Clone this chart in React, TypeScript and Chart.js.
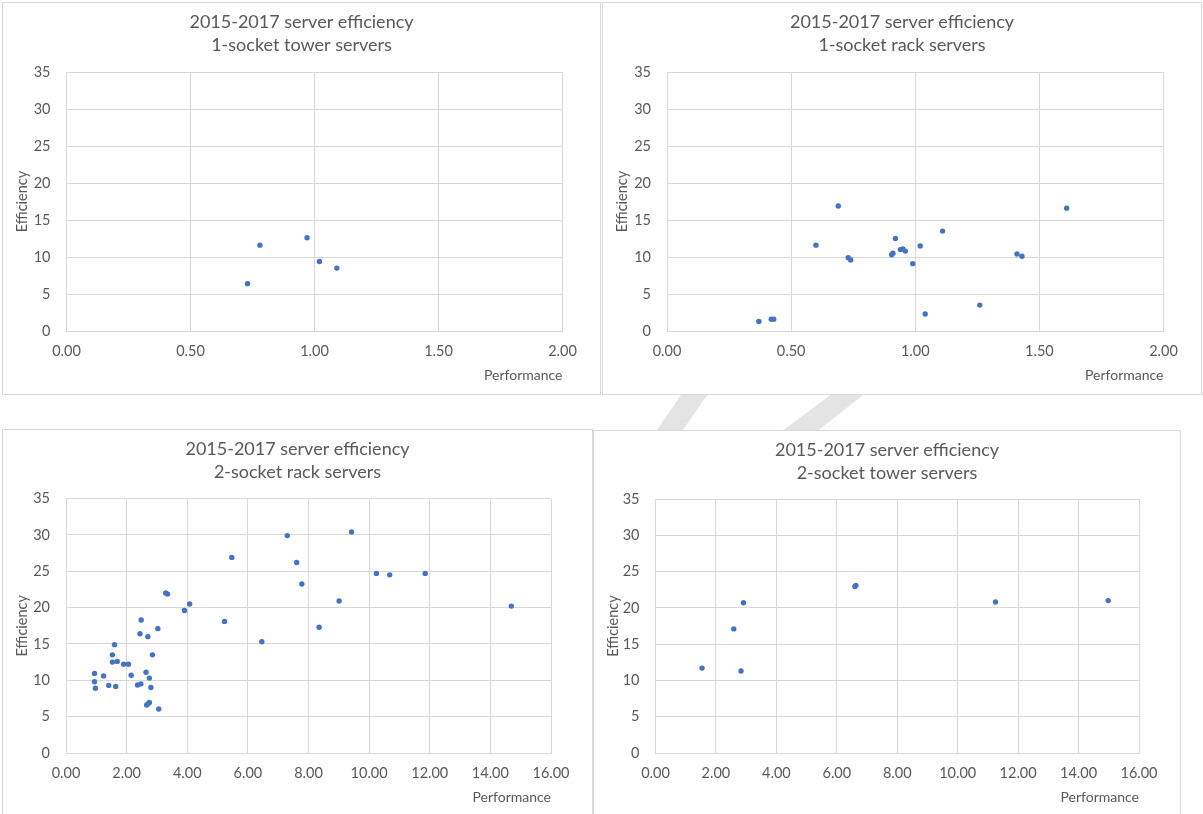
import React, { useEffect, useRef } from "react";
import { Chart, registerables } from "chart.js";

Chart.register(...registerables);

// ---------- data ----------
const chartTitle = "2015-2017 server efficiency";
const subtitles = [
  "1-socket tower servers",
  "1-socket rack servers",
  "2-socket rack servers",
  "2-socket tower servers",
];
const xAxisTitle = "Performance";
const yAxisTitle = "Efficiency";

const xTicksSmall = ["0.00", "0.50", "1.00", "1.50", "2.00"];
const xTicksLarge = ["0.00", "2.00", "4.00", "6.00", "8.00", "10.00", "12.00", "14.00", "16.00"];
const yTicks = ["0", "5", "10", "15", "20", "25", "30", "35"];

const tower1X = [0.73, 0.78, 0.97, 1.02, 1.09];
const tower1Y = [6.4, 11.6, 12.6, 9.4, 8.5];

const rack1X = [0.37, 0.42, 0.43, 0.6, 0.69, 0.73, 0.74, 0.905, 0.91, 0.92, 0.94, 0.95, 0.96, 0.99, 1.02, 1.04, 1.11, 1.26, 1.41, 1.43, 1.61];
const rack1Y = [1.3, 1.6, 1.6, 11.6, 16.9, 9.9, 9.6, 10.3, 10.5, 12.5, 11.0, 11.1, 10.8, 9.1, 11.5, 2.3, 13.5, 3.5, 10.4, 10.1, 16.6];

const rack2X = [
  0.94, 0.94, 0.97, 1.24, 1.41, 1.53, 1.53, 1.6, 1.64, 1.69, 1.9, 2.06, 2.15, 2.36, 2.47,
  2.44, 2.48, 2.64, 2.7, 2.75, 2.8, 2.85, 2.66, 2.72, 2.75, 3.03, 3.06, 3.29, 3.35, 3.91,
  4.08, 5.23, 5.47, 6.46, 7.3, 7.61, 7.78, 8.35, 9.01, 9.42, 10.24, 10.68, 11.85, 14.69,
];
const rack2Y = [
  10.95, 9.8, 8.9, 10.6, 9.3, 13.5, 12.5, 14.9, 9.15, 12.6, 12.2, 12.2, 10.7, 9.35, 9.5,
  16.4, 18.3, 11.1, 16.0, 10.3, 9.0, 13.5, 6.6, 6.8, 6.95, 17.1, 6.05, 22.0, 21.85, 19.6,
  20.5, 18.1, 26.9, 15.3, 29.9, 26.2, 23.25, 17.3, 20.9, 30.4, 24.7, 24.5, 24.7, 20.2,
];

const tower2X = [1.54, 2.59, 2.83, 2.91, 6.6, 6.63, 11.25, 14.98];
const tower2Y = [11.7, 17.1, 11.3, 20.7, 22.95, 23.1, 20.8, 21.0];

// ---------- styling ----------
const FONT = "Lato, 'Open Sans', sans-serif";
const TEXT = "#595959";
const GRID = "#d9d9d9";
const POINT = "#4472C4";
const WATERMARK = "#e4e4e4";

type Panel = {
  sub: string;
  xs: number[];
  ys: number[];
  xLabels: string[];
  xMax: number;
  xStep: number;
  box: [number, number, number, number]; // left, top, width, height (border box)
  area: [number, number, number, number]; // left, top, right, bottom (page coords)
};

const panels: Panel[] = [
  { sub: subtitles[0], xs: tower1X, ys: tower1Y, xLabels: xTicksSmall, xMax: 2, xStep: 0.5, box: [2, 2, 599, 393], area: [66.5, 72, 562.5, 331] },
  { sub: subtitles[1], xs: rack1X, ys: rack1Y, xLabels: xTicksSmall, xMax: 2, xStep: 0.5, box: [602, 2, 600, 393], area: [667, 72, 1163.5, 331] },
  { sub: subtitles[2], xs: rack2X, ys: rack2Y, xLabels: xTicksLarge, xMax: 16, xStep: 2, box: [2, 429, 591, 388], area: [66, 498.5, 551, 753] },
  { sub: subtitles[3], xs: tower2X, ys: tower2Y, xLabels: xTicksLarge, xMax: 16, xStep: 2, box: [593, 430, 588, 388], area: [655.5, 499, 1139, 753] },
];

function ScatterPanel({ p }: { p: Panel }) {
  const ref = useRef<HTMLCanvasElement | null>(null);
  const [bl, bt, bw, bh] = p.box;
  const cl = bl + 1, ct = bt + 1, cw = bw - 2, ch = bh - 2;

  useEffect(() => {
    if (!ref.current) return;
    const [al, at, ar, ab] = p.area;
    const yw = al - cl;
    const xh = 52.5;
    const padTop = at - ct;
    const padRight = cl + cw - ar;
    const padBottom = ct + ch - ab - xh;

    const titlePlugin = {
      id: "twoLineTitle",
      afterDraw(chart: any) {
        const ctx = chart.ctx;
        ctx.save();
        ctx.fillStyle = TEXT;
        ctx.font = `18px ${FONT}`;
        ctx.textAlign = "center";
        ctx.textBaseline = "middle";
        ctx.fillText(chartTitle, chart.width / 2, 18.7);
        ctx.fillText(p.sub, chart.width / 2, 42);
        ctx.restore();
      },
    };

    const chart = new Chart(ref.current, {
      type: "scatter",
      data: {
        datasets: [
          {
            data: p.xs.map((x, i) => ({ x, y: p.ys[i] })),
            backgroundColor: POINT,
            borderColor: POINT,
            borderWidth: 0,
            pointRadius: 2.7,
            pointHoverRadius: 2.7,
          },
        ],
      },
      options: {
        animation: false,
        responsive: false,
        maintainAspectRatio: false,
        events: [],
        layout: { padding: { left: 0, top: padTop, right: padRight, bottom: padBottom } },
        plugins: {
          legend: { display: false },
          title: { display: false },
          tooltip: { enabled: false },
        },
        scales: {
          x: {
            type: "linear",
            min: 0,
            max: p.xMax,
            afterFit: (s: any) => {
              s.height = xh;
            },
            ticks: {
              stepSize: p.xStep,
              autoSkip: false,
              maxRotation: 0,
              padding: 12,
              color: TEXT,
              font: { family: FONT, size: 14.5 },
              callback: (_v: any, i: number) => p.xLabels[i],
            },
            grid: { color: GRID, drawTicks: false, lineWidth: 1 },
            border: { color: GRID },
            title: {
              display: true,
              text: xAxisTitle,
              align: "end",
              color: TEXT,
              font: { family: FONT, size: 14 },
              padding: 0,
            },
          },
          y: {
            type: "linear",
            min: 0,
            max: 35,
            afterFit: (s: any) => {
              s.width = yw;
            },
            ticks: {
              stepSize: 5,
              autoSkip: false,
              padding: 16,
              color: TEXT,
              font: { family: FONT, size: 14.5 },
              callback: (_v: any, i: number) => yTicks[i],
            },
            grid: { color: GRID, drawTicks: false, lineWidth: 1 },
            border: { color: GRID },
            title: {
              display: true,
              text: yAxisTitle,
              color: TEXT,
              font: { family: FONT, size: 14.5 },
              padding: { top: 10.8, bottom: 0 },
            },
          },
        },
      } as any,
      plugins: [titlePlugin],
    });
    return () => chart.destroy();
  }, []);

  return (
    <>
      <div
        style={{
          position: "absolute",
          left: bl,
          top: bt,
          width: bw,
          height: bh,
          boxSizing: "border-box",
          border: `1px solid ${GRID}`,
          background: "#fff",
        }}
      />
      <canvas
        ref={ref}
        width={cw}
        height={ch}
        style={{ position: "absolute", left: cl, top: ct, width: cw, height: ch }}
      />
    </>
  );
}

export default function App() {
  return (
    <div
      style={{
        position: "absolute",
        left: 0,
        top: 0,
        width: 1203,
        height: 814,
        overflow: "hidden",
        background: "#fff",
      }}
    >
      {/* faint background watermark, only visible between the panels */}
      <svg
        width={1203}
        height={814}
        style={{ position: "absolute", left: 0, top: 0 }}
      >
        <polygon points="686,388 712,388 676,440 650,440" fill={WATERMARK} />
        <polygon points="840,388 872,388 806,440 770,440" fill={WATERMARK} />
      </svg>
      {panels.map((p, i) => (
        <ScatterPanel key={i} p={p} />
      ))}
    </div>
  );
}
